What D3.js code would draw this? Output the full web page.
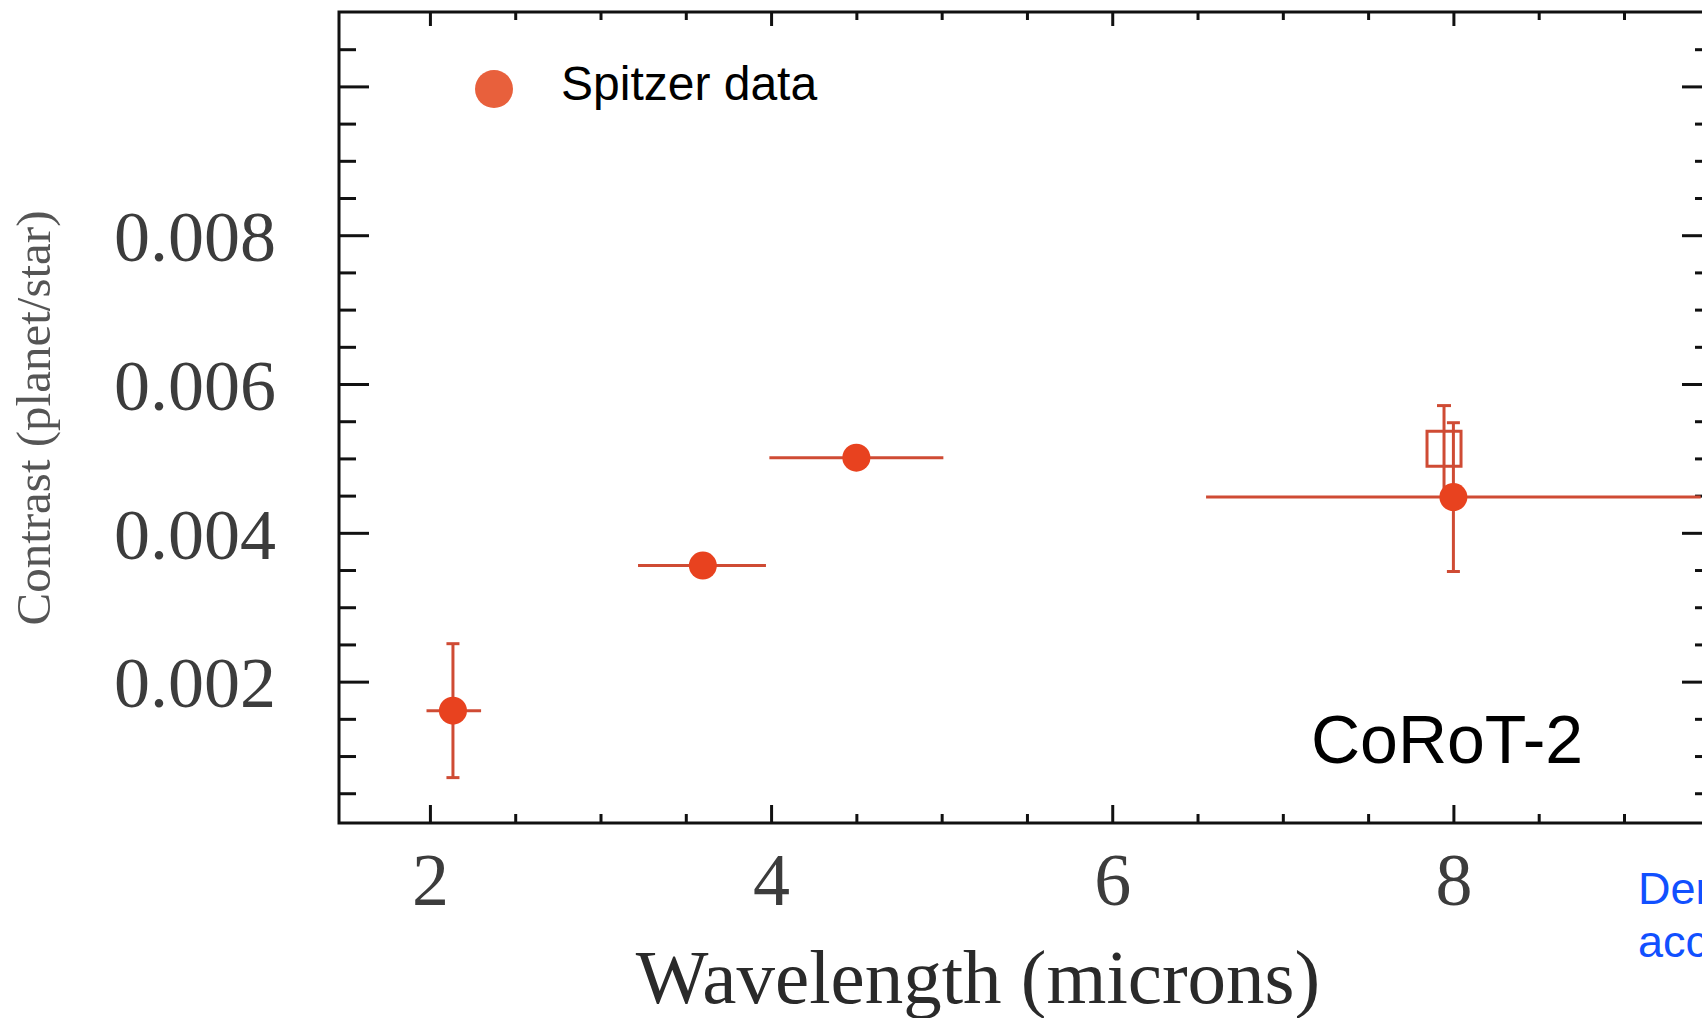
<!DOCTYPE html>
<html>
<head>
<meta charset="utf-8">
<script src="https://cdn.jsdelivr.net/npm/d3@7"></script>
<style>
  html, body { margin: 0; padding: 0; background: #fff; overflow: hidden; }
  svg { display: block; }
</style>
</head>
<body>
<svg id="chart" width="1702" height="1018"></svg>
<script>
// ---- data ----
const wavelength   = [2.135, 3.6, 4.5, 8.0];
const contrast     = [0.00161, 0.00356, 0.00501, 0.00448];
const contrastErr  = [0.00090, 0.00015, 0.00015, 0.00100];
const waveLow      = [1.98, 3.22, 3.99, 6.55];
const waveHigh     = [2.30, 3.97, 5.01, 9.45];
const altWave      = [7.945];
const altContrast  = [0.00513];
const altErr       = [0.00058];
const xMajorTicks  = [2, 4, 6, 8];
const yMajorTicks  = [0.002, 0.004, 0.006, 0.008, 0.010];
const yTickLabels  = ["0.002", "0.004", "0.006", "0.008", ""];
const legendLabel  = "Spitzer data";
const targetLabel  = "CoRoT-2";
const noteLines    = ["Der", "acc"];

// ---- layout ----
const svg = d3.select("#chart");
svg.append("rect").attr("width", 1702).attr("height", 1018).attr("fill", "#fff");
const L = 339, R = 1712, T = 12, B = 823;
const x = d3.scaleLinear().domain([1.467, 9.516]).range([L, R]);
const y = d3.scaleLinear().domain([0.0001, 0.0110]).range([B, T]);

const xMinor = d3.range(1.5, 9.6, 0.5).filter(v => !xMajorTicks.includes(v) && x(v) > L + 6 && x(v) < R);
const yMinor = d3.range(0.0005, 0.0110, 0.0005).map(v => +v.toFixed(4)).filter(v => !yMajorTicks.some(m => Math.abs(m - v) < 1e-9));

function styleTicks(g) {
  g.select(".domain").remove();
  g.selectAll("line").attr("stroke", "#111").attr("stroke-width", 3);
}

// left axis (ticks inward)
svg.append("g").attr("transform", `translate(${L},0)`)
  .call(d3.axisRight(y).tickValues(yMajorTicks).tickSize(30).tickFormat("")).call(styleTicks);
svg.append("g").attr("transform", `translate(${L},0)`)
  .call(d3.axisRight(y).tickValues(yMinor).tickSize(17).tickFormat("")).call(styleTicks);
// right axis
svg.append("g").attr("transform", `translate(${R},0)`)
  .call(d3.axisLeft(y).tickValues(yMajorTicks).tickSize(30).tickFormat("")).call(styleTicks);
svg.append("g").attr("transform", `translate(${R},0)`)
  .call(d3.axisLeft(y).tickValues(yMinor).tickSize(17).tickFormat("")).call(styleTicks);
// bottom axis
svg.append("g").attr("transform", `translate(0,${B})`)
  .call(d3.axisTop(x).tickValues(xMajorTicks).tickSize(18).tickFormat("")).call(styleTicks);
svg.append("g").attr("transform", `translate(0,${B})`)
  .call(d3.axisTop(x).tickValues(xMinor).tickSize(9).tickFormat("")).call(styleTicks);
// top axis
svg.append("g").attr("transform", `translate(0,${T})`)
  .call(d3.axisBottom(x).tickValues(xMajorTicks).tickSize(14).tickFormat("")).call(styleTicks);
svg.append("g").attr("transform", `translate(0,${T})`)
  .call(d3.axisBottom(x).tickValues(xMinor).tickSize(8).tickFormat("")).call(styleTicks);

// frame
svg.append("rect").attr("x", L).attr("y", T).attr("width", R - L).attr("height", B - T)
  .attr("fill", "none").attr("stroke", "#111").attr("stroke-width", 3);

// tick labels
const serif = "'Liberation Serif', 'Times New Roman', serif";
const yl = svg.append("g").attr("transform", `translate(${L},0)`)
  .call(d3.axisLeft(y).tickValues(yMajorTicks).tickSize(0).tickPadding(63)
    .tickFormat((d, i) => yTickLabels[i]));
yl.select(".domain").remove();
yl.selectAll("text").attr("font-family", serif).attr("font-size", 72).attr("fill", "#3c3c3c").attr("dy", "0.35em");

const xl = svg.append("g").attr("transform", `translate(0,${B})`)
  .call(d3.axisBottom(x).tickValues(xMajorTicks).tickSize(0).tickPadding(29).tickFormat(d3.format("d")));
xl.select(".domain").remove();
xl.selectAll("text").attr("font-family", serif).attr("font-size", 74).attr("fill", "#3c3c3c");

// axis titles
svg.append("text").attr("x", 978).attr("y", 1003).attr("text-anchor", "middle")
  .attr("font-family", serif).attr("font-size", 77).attr("fill", "#2a2a2a")
  .text("Wavelength (microns)");
svg.append("text").attr("transform", "translate(50,418) rotate(-90)").attr("text-anchor", "middle")
  .attr("font-family", serif).attr("font-size", 49).attr("fill", "#555")
  .text("Contrast (planet/star)");

// ---- data marks ----
const errColor = "#cf4b34", dotColor = "#e8421f";
const pts = wavelength.map((w, i) => ({ w, c: contrast[i], e: contrastErr[i], lo: waveLow[i], hi: waveHigh[i] }));
const alt = altWave.map((w, i) => ({ w, c: altContrast[i], e: altErr[i] }));
const cap = 6.5;

const ga = svg.append("g");
alt.forEach(d => {
  ga.append("line").attr("x1", x(d.w)).attr("x2", x(d.w)).attr("y1", y(d.c - d.e)).attr("y2", y(d.c + d.e))
    .attr("stroke", errColor).attr("stroke-width", 3);
  ga.append("line").attr("x1", x(d.w) - 7).attr("x2", x(d.w) + 7).attr("y1", y(d.c + d.e)).attr("y2", y(d.c + d.e))
    .attr("stroke", errColor).attr("stroke-width", 3);
  ga.append("rect").attr("x", x(d.w) - 17).attr("y", y(d.c) - 17.5).attr("width", 34).attr("height", 35)
    .attr("fill", "none").attr("stroke", errColor).attr("stroke-width", 3);
});

const ge = svg.append("g");
pts.forEach(d => {
  ge.append("line").attr("x1", x(d.lo)).attr("x2", x(d.hi)).attr("y1", y(d.c)).attr("y2", y(d.c))
    .attr("stroke", errColor).attr("stroke-width", 3);
  ge.append("line").attr("x1", x(d.w)).attr("x2", x(d.w)).attr("y1", y(d.c - d.e)).attr("y2", y(d.c + d.e))
    .attr("stroke", errColor).attr("stroke-width", 3);
  if (d.e > 0.0003) {
    [d.c - d.e, d.c + d.e].forEach(v => {
      ge.append("line").attr("x1", x(d.w) - cap).attr("x2", x(d.w) + cap).attr("y1", y(v)).attr("y2", y(v))
        .attr("stroke", errColor).attr("stroke-width", 3);
    });
  }
});
svg.append("g").selectAll("circle").data(pts).join("circle")
  .attr("cx", d => x(d.w)).attr("cy", d => y(d.c)).attr("r", 14).attr("fill", dotColor);

// ---- legend & annotations ----
const sans = "'Liberation Sans', Arial, sans-serif";
svg.append("ellipse").attr("cx", 494).attr("cy", 89).attr("rx", 19).attr("ry", 19).attr("fill", "#e8603c");
svg.append("text").attr("x", 561).attr("y", 100).attr("font-family", sans).attr("font-size", 48)
  .attr("fill", "#000").text(legendLabel);
svg.append("text").attr("x", 1311).attr("y", 763).attr("font-family", sans).attr("font-size", 68)
  .attr("fill", "#000").text(targetLabel);
svg.append("g").selectAll("text").data(noteLines).join("text")
  .attr("x", 1638).attr("y", (d, i) => 904 + i * 53).attr("font-family", sans).attr("font-size", 45)
  .attr("fill", "#1150ff").text(d => d);
</script>
</body>
</html>
